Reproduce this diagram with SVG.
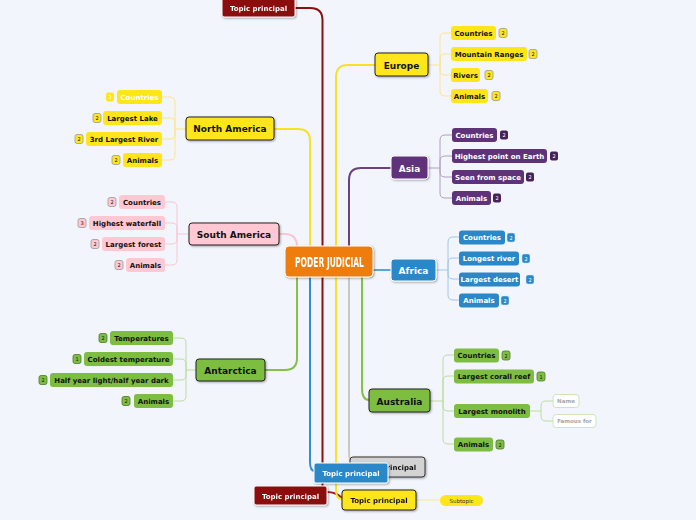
<svg xmlns="http://www.w3.org/2000/svg" width="696" height="520" viewBox="0 0 696 520">
<defs>
<filter id="sh" x="-10%" y="-20%" width="130%" height="150%"><feDropShadow dx="1" dy="1" stdDeviation="0.8" flood-color="#000" flood-opacity="0.35"/></filter>
<style>
text{font-family:"DejaVu Sans",Verdana,sans-serif;font-weight:bold;text-anchor:middle}
.t7{font-size:7px}
.t9{font-size:9px}
.tb{font-size:5px;font-weight:normal}
.main{stroke-width:2;fill:none;stroke-linecap:round}
.sub{stroke-width:1;fill:none}
.m{filter:url(#sh)}
.yel{fill:#ffe51a}
.pnk{fill:#ffc8d2}
.pur{fill:#5f3379}
.blu{fill:#2a87c8}
.grn{fill:#7dbd41}
.blk{stroke:#222;stroke-width:1}
.wht{stroke:#fff;stroke-width:1}
.wt{fill:#fff}
.bt{fill:#111}
.by{fill:#ffe51a;stroke:#999;stroke-width:0.8}
.bp{fill:#ffc8d2;stroke:#999;stroke-width:0.8}
.bg{fill:#7dbd41;stroke:#4d7a26;stroke-width:0.8}
.bpu{fill:#472259}
.bbl{fill:#2a87c8;stroke:#cfe5f5;stroke-width:0.5}
</style>
</defs>
<rect width="696" height="520" fill="#f3f5fd"/>

<g id="connectors">
<path class="main" stroke="#8b1010" d="M322.5,246 V20 Q322.5,8 310,8 H295"/>
<path class="main" stroke="#f7e324" d="M310,246 V141 Q310,129 298,129 H274"/>
<path class="main" stroke="#f7e324" d="M336,246 V77 Q336,65 348,65 H375"/>
<path class="main" stroke="#6b4281" d="M349,246 V180 Q349,168 361,168 H391"/>
<path class="main" stroke="#f9c6d0" d="M297,247 Q297,234 285,234 H279"/>
<path class="main" stroke="#5aa6dc" stroke-width="1.3" d="M373,270 H391"/>
<path class="main" stroke="#85c04a" d="M297,277 V358 Q297,370 285,370 H265"/>
<path class="main" stroke="#2f8fd0" d="M310,277 V462 Q310,471 315,471"/>
<path class="main" stroke="#8b1010" d="M322.5,277 V487"/>
<path class="main" stroke="#a02020" stroke-width="1.3" d="M327,492 Q336,492 342,498"/>
<path class="main" stroke="#f7e324" d="M336,277 V490 Q336,499 342,499"/>
<path class="main" stroke="#c8c8c8" d="M349,277 V452 Q349,461 352,462"/>
<path class="main" stroke="#85c04a" d="M362,277 V388 Q362,400 369,400"/>
<path class="sub" stroke="#fbe98a" d="M416,500 H440"/>

<g stroke="#fbe58a" class="sub">
<path d="M428,65 H440"/>
<path d="M440,65 V38 Q440,33 445,33 H451"/>
<path d="M440,65 V59 Q440,54 445,54 H451"/>
<path d="M440,65 V70 Q440,75 445,75 H451"/>
<path d="M440,65 V91 Q440,96 445,96 H451"/>
</g>
<g stroke="#fbe58a" class="sub">
<path d="M186,129 H175"/>
<path d="M175,129 V102 Q175,97 170,97 H162"/>
<path d="M175,129 V123 Q175,118 170,118 H162"/>
<path d="M175,129 V134 Q175,139 170,139 H162"/>
<path d="M175,129 V155 Q175,160 170,160 H162"/>
</g>
<g stroke="#f9c6d0" class="sub">
<path d="M189,234 H177"/>
<path d="M177,234 V207 Q177,202 172,202 H165"/>
<path d="M177,234 V228 Q177,223 172,223 H165"/>
<path d="M177,234 V239 Q177,244 172,244 H165"/>
<path d="M177,234 V260 Q177,265 172,265 H165"/>
</g>
<g stroke="#bcdc9c" class="sub">
<path d="M196,370 H186"/>
<path d="M186,370 V343 Q186,338 181,338 H173"/>
<path d="M186,370 V364 Q186,359 181,359 H173"/>
<path d="M186,370 V375 Q186,380 181,380 H173"/>
<path d="M186,370 V396 Q186,401 181,401 H173"/>
</g>
<g stroke="#b0a0bd" class="sub">
<path d="M428,168 H440"/>
<path d="M440,168 V140 Q440,135 445,135 H452"/>
<path d="M440,168 V161 Q440,156 445,156 H452"/>
<path d="M440,168 V172 Q440,177 445,177 H452"/>
<path d="M440,168 V193 Q440,198 445,198 H452"/>
</g>
<g stroke="#9cc8ea" class="sub">
<path d="M436,270 H448"/>
<path d="M448,270 V242 Q448,237 453,237 H459"/>
<path d="M448,270 V263 Q448,258 453,258 H459"/>
<path d="M448,270 V274 Q448,279 453,279 H459"/>
<path d="M448,270 V295 Q448,300 453,300 H459"/>
</g>
<g stroke="#bcdc9c" class="sub">
<path d="M430,401 H443"/>
<path d="M443,401 V360 Q443,355 448,355 H454"/>
<path d="M443,401 V381 Q443,376 448,376 H454"/>
<path d="M443,401 V406 Q443,411 448,411 H454"/>
<path d="M443,401 V439 Q443,444 448,444 H454"/>
<path d="M530,411 H541"/>
<path d="M541,411 V406 Q541,401 546,401 H553"/>
<path d="M541,411 V416 Q541,421 546,421 H553"/>
</g>
</g>

<g id="center" class="m">
<rect x="285" y="246" width="88" height="31" rx="4" fill="#ee7d10" stroke="#fff" stroke-width="1"/>
<text transform="translate(329.5,267) scale(0.6,1)" x="0" y="0" style="font-family:'DejaVu Sans Condensed','DejaVu Sans',sans-serif;font-size:14px" fill="#fff">PODER JUDICIAL</text>
</g>

<g id="topic-top" class="m">
<rect x="222" y="-2" width="73" height="19" rx="2" fill="#8b0b0b" stroke="#fff" stroke-width="1"/>
<text class="t7 wt" x="258.5" y="11">Topic principal</text>
</g>

<g id="europe">
<rect class="yel blk m" x="375" y="53" width="53" height="23" rx="3"/>
<text class="t9 bt" x="401.5" y="68.5">Europe</text>
<rect class="yel" x="451" y="26" width="45" height="14" rx="3"/><text class="t7 bt" x="473.5" y="35.5">Countries</text>
<rect class="by" x="499" y="28.5" width="8" height="9" rx="2"/><text class="tb bt" x="503" y="35">2</text>
<rect class="yel" x="451" y="47" width="76" height="14" rx="3"/><text class="t7 bt" x="489" y="56.5">Mountain Ranges</text>
<rect class="by" x="529" y="49.5" width="8" height="9" rx="2"/><text class="tb bt" x="533" y="56">2</text>
<rect class="yel" x="451" y="68" width="29" height="14" rx="3"/><text class="t7 bt" x="465.5" y="77.5">Rivers</text>
<rect class="by" x="485" y="70.5" width="8" height="9" rx="2"/><text class="tb bt" x="489" y="77">2</text>
<rect class="yel" x="451" y="89" width="37" height="14" rx="3"/><text class="t7 bt" x="469.5" y="98.5">Animals</text>
<rect class="by" x="492" y="91.5" width="8" height="9" rx="2"/><text class="tb bt" x="496" y="98">2</text>
</g>

<g id="north-america">
<rect class="yel blk m" x="186" y="117" width="88" height="23" rx="3"/>
<text class="t9 bt" x="230" y="132">North America</text>
<rect class="yel" x="117" y="90" width="45" height="14" rx="3"/><text class="t7 wt" x="139.5" y="99.5">Countries</text>
<rect class="yel" x="106" y="92.5" width="8" height="9" rx="2"/><text class="tb wt" x="110" y="99">2</text>
<rect class="yel" x="103" y="111" width="59" height="14" rx="3"/><text class="t7 bt" x="132.5" y="120.5">Largest Lake</text>
<rect class="by" x="93" y="113.5" width="8" height="9" rx="2"/><text class="tb bt" x="97" y="120">2</text>
<rect class="yel" x="86" y="132" width="76" height="14" rx="3"/><text class="t7 bt" x="124" y="141.5">3rd Largest River</text>
<rect class="by" x="75" y="134.5" width="8" height="9" rx="2"/><text class="tb bt" x="79" y="141">2</text>
<rect class="yel" x="123" y="153" width="39" height="14" rx="3"/><text class="t7 bt" x="142.5" y="162.5">Animals</text>
<rect class="by" x="112" y="155.5" width="8" height="9" rx="2"/><text class="tb bt" x="116" y="162">2</text>
</g>

<g id="south-america">
<rect class="pnk blk m" x="189" y="223" width="90" height="22" rx="3"/>
<text class="t9 bt" x="234" y="237.5">South America</text>
<rect class="pnk" x="119" y="195" width="46" height="14" rx="3"/><text class="t7 bt" x="142" y="204.5">Countries</text>
<rect class="bp" x="108" y="197.5" width="8" height="9" rx="2"/><text class="tb bt" x="112" y="204">2</text>
<rect class="pnk" x="89" y="216" width="76" height="14" rx="3"/><text class="t7 bt" x="127" y="225.5">Highest waterfall</text>
<rect class="bp" x="78" y="218.5" width="8" height="9" rx="2"/><text class="tb bt" x="82" y="225">3</text>
<rect class="pnk" x="102" y="237" width="63" height="14" rx="3"/><text class="t7 bt" x="133.5" y="246.5">Largest forest</text>
<rect class="bp" x="91" y="239.5" width="8" height="9" rx="2"/><text class="tb bt" x="95" y="246">2</text>
<rect class="pnk" x="126" y="258" width="39" height="14" rx="3"/><text class="t7 bt" x="145.5" y="267.5">Animals</text>
<rect class="bp" x="115" y="260.5" width="8" height="9" rx="2"/><text class="tb bt" x="119" y="267">2</text>
</g>

<g id="antarctica">
<rect class="grn blk m" x="196" y="359" width="69" height="22" rx="3"/>
<text class="t9 bt" x="230.5" y="373.5">Antarctica</text>
<rect class="grn" x="110" y="331" width="63" height="14" rx="3"/><text class="t7 bt" x="141.5" y="340.5">Temperatures</text>
<rect class="bg" x="99" y="333.5" width="8" height="9" rx="2"/><text class="tb bt" x="103" y="340">2</text>
<rect class="grn" x="84" y="352" width="89" height="14" rx="3"/><text class="t7 bt" x="128.5" y="361.5">Coldest temperature</text>
<rect class="bg" x="73" y="354.5" width="8" height="9" rx="2"/><text class="tb bt" x="77" y="361">1</text>
<rect class="grn" x="50" y="373" width="123" height="14" rx="3"/><text class="t7 bt" x="111.5" y="382.5">Half year light/half year dark</text>
<rect class="bg" x="39" y="375.5" width="8" height="9" rx="2"/><text class="tb bt" x="43" y="382">2</text>
<rect class="grn" x="134" y="394" width="39" height="14" rx="3"/><text class="t7 bt" x="153.5" y="403.5">Animals</text>
<rect class="bg" x="122" y="396.5" width="8" height="9" rx="2"/><text class="tb bt" x="126" y="403">2</text>
</g>

<g id="asia">
<rect class="pur wht m" x="391" y="156" width="37" height="23" rx="3"/>
<text class="t9 wt" x="409.5" y="171.5">Asia</text>
<rect class="pur" x="452" y="128" width="45" height="14" rx="3"/><text class="t7 wt" x="474.5" y="137.5">Countries</text>
<rect class="bpu" x="500" y="130.5" width="8" height="9" rx="2"/><text class="tb wt" x="504" y="137">2</text>
<rect class="pur" x="452" y="149" width="95" height="14" rx="3"/><text class="t7 wt" x="499.5" y="158.5">Highest point on Earth</text>
<rect class="bpu" x="550" y="151.5" width="8" height="9" rx="2"/><text class="tb wt" x="554" y="158">2</text>
<rect class="pur" x="452" y="170" width="72" height="14" rx="3"/><text class="t7 wt" x="488" y="179.5">Seen from space</text>
<rect class="bpu" x="526" y="172.5" width="8" height="9" rx="2"/><text class="tb wt" x="530" y="179">2</text>
<rect class="pur" x="452" y="191" width="39" height="14" rx="3"/><text class="t7 wt" x="471.5" y="200.5">Animals</text>
<rect class="bpu" x="493" y="193.5" width="8" height="9" rx="2"/><text class="tb wt" x="497" y="200">2</text>
</g>

<g id="africa">
<rect class="blu wht m" x="391" y="259" width="45" height="22" rx="3"/>
<text class="t9 wt" x="413.5" y="273.5">Africa</text>
<rect class="blu" x="459" y="230.5" width="46" height="14" rx="3"/><text class="t7 wt" x="482" y="240">Countries</text>
<rect class="bbl" x="507" y="233" width="8" height="9" rx="2"/><text class="tb wt" x="511" y="239.5">2</text>
<rect class="blu" x="459" y="251.5" width="60" height="14" rx="3"/><text class="t7 wt" x="489" y="261">Longest river</text>
<rect class="bbl" x="522" y="254" width="8" height="9" rx="2"/><text class="tb wt" x="526" y="260.5">2</text>
<rect class="blu" x="459" y="272.5" width="61" height="14" rx="3"/><text class="t7 wt" x="489.5" y="282">Largest desert</text>
<rect class="bbl" x="526" y="275" width="8" height="9" rx="2"/><text class="tb wt" x="530" y="281.5">2</text>
<rect class="blu" x="459" y="293.5" width="40" height="14" rx="3"/><text class="t7 wt" x="479" y="303">Animals</text>
<rect class="bbl" x="501" y="296" width="8" height="9" rx="2"/><text class="tb wt" x="505" y="302.5">2</text>
</g>

<g id="australia">
<rect class="grn blk m" x="369" y="389" width="61" height="23" rx="3"/>
<text class="t9 bt" x="399.5" y="404.5">Australia</text>
<rect class="grn" x="454" y="348.5" width="45" height="14" rx="3"/><text class="t7 bt" x="476.5" y="358">Countries</text>
<rect class="bg" x="502" y="351" width="8" height="9" rx="2"/><text class="tb bt" x="506" y="357.5">2</text>
<rect class="grn" x="454" y="369.5" width="80" height="14" rx="3"/><text class="t7 bt" x="494" y="379">Largest corall reef</text>
<rect class="bg" x="537" y="372" width="8" height="9" rx="2"/><text class="tb bt" x="541" y="378.5">1</text>
<rect class="grn" x="454" y="404" width="76" height="14" rx="3"/><text class="t7 bt" x="492" y="413.5">Largest monolith</text>
<rect class="grn" x="454" y="437.5" width="39" height="14" rx="3"/><text class="t7 bt" x="473.5" y="447">Animals</text>
<rect class="bg" x="496" y="440" width="8" height="9" rx="2"/><text class="tb bt" x="500" y="446.5">2</text>
<rect x="553" y="394.5" width="26" height="13" rx="3" fill="#fff" stroke="#cde6b8" stroke-width="1"/><text x="566" y="403" style="font-size:5.5px" fill="#a8a8a8">Name</text>
<rect x="553" y="414.5" width="43" height="13" rx="3" fill="#fff" stroke="#cde6b8" stroke-width="1"/><text x="574.5" y="423" style="font-size:5.5px" fill="#a8a8a8">Famous for</text>
</g>

<g id="topic-gray" class="m">
<rect x="350" y="457" width="75" height="20" rx="3" fill="#d3d3d3" stroke="#333" stroke-width="1"/>
<text class="t7 bt" x="387.5" y="470">Topic principal</text>
</g>
<g id="topic-blue" class="m">
<rect x="314" y="463" width="74" height="20" rx="2" fill="#2a87c8" stroke="#fff" stroke-width="1"/>
<text class="t7 wt" x="351" y="476">Topic principal</text>
</g>
<g id="topic-red-bottom" class="m">
<rect x="254" y="486" width="73" height="19" rx="2" fill="#8b0b0b" stroke="#fff" stroke-width="1"/>
<text class="t7 wt" x="290.5" y="498.5">Topic principal</text>
</g>
<g id="topic-yellow-bottom" class="m">
<rect x="342" y="490" width="74" height="20" rx="3" fill="#ffe51a" stroke="#222" stroke-width="1"/>
<text class="t7 bt" x="379" y="503">Topic principal</text>
</g>
<g id="subtopic">
<rect x="440" y="495" width="43" height="11" rx="5.5" fill="#ffe51a"/>
<text x="461.5" y="502.5" style="font-size:5.5px;font-weight:normal" fill="#333">Subtopic</text>
</g>
</svg>
